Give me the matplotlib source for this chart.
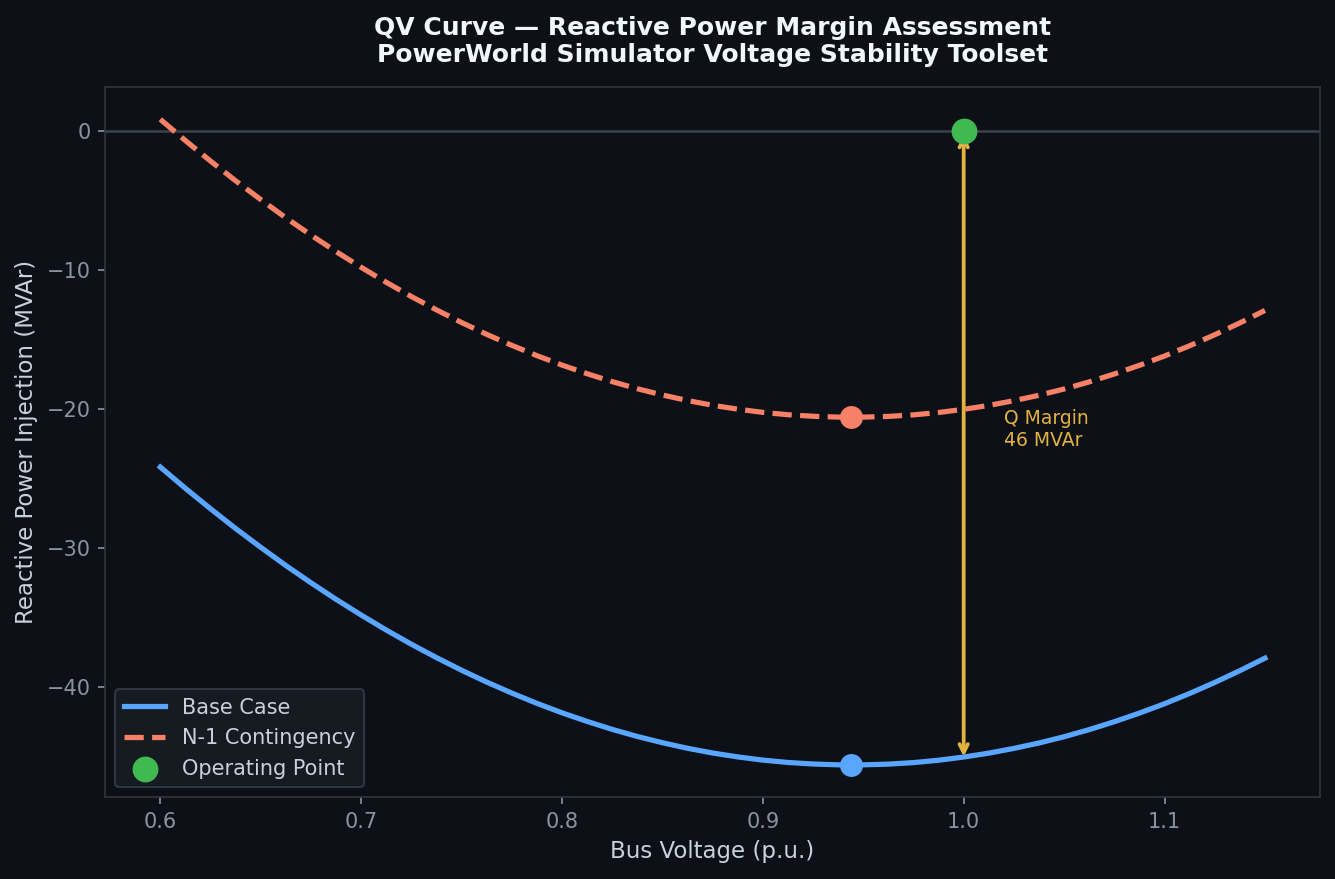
import matplotlib
matplotlib.use("Agg")
import matplotlib.pyplot as plt

voltage = [0.6000, 0.6125, 0.6250, 0.6375, 0.6500, 0.6625, 0.6750, 0.6875, 0.7000, 0.7125,
           0.7250, 0.7375, 0.7500, 0.7625, 0.7750, 0.7875, 0.8000, 0.8125, 0.8250, 0.8375,
           0.8500, 0.8625, 0.8750, 0.8875, 0.9000, 0.9125, 0.9250, 0.9375, 0.9500, 0.9625,
           0.9750, 0.9875, 1.0000, 1.0125, 1.0250, 1.0375, 1.0500, 1.0625, 1.0750, 1.0875,
           1.1000, 1.1125, 1.1250, 1.1375, 1.1500]
q_base = [-24.18, -25.71, -27.18, -28.60, -29.95, -31.26, -32.50, -33.69, -34.82, -35.90,
          -36.92, -37.88, -38.79, -39.64, -40.43, -41.17, -41.85, -42.47, -43.04, -43.55,
          -44.00, -44.40, -44.74, -45.02, -45.25, -45.42, -45.53, -45.59, -45.59, -45.54,
          -45.43, -45.26, -45.03, -44.75, -44.41, -44.02, -43.57, -43.06, -42.49, -41.87,
          -41.20, -40.46, -39.67, -38.82, -37.92]
q_n1 = [0.82, -0.71, -2.18, -3.60, -4.95, -6.26, -7.50, -8.69, -9.82, -10.90,
        -11.92, -12.88, -13.79, -14.64, -15.43, -16.17, -16.85, -17.47, -18.04, -18.55,
        -19.00, -19.40, -19.74, -20.02, -20.25, -20.42, -20.53, -20.59, -20.59, -20.54,
        -20.43, -20.26, -20.03, -19.75, -19.41, -19.02, -18.57, -18.06, -17.49, -16.87,
        -16.20, -15.46, -14.67, -13.82, -12.92]
base_min = (0.944, -45.6)
n1_min = (0.944, -20.6)
op_point = (1.0, 0.0)
margin_bottom = -45.0
margin_label = "Q Margin\n46 MVAr"

BG = "#0d1017"
fig = plt.figure(figsize=(8.9, 5.86), dpi=150, facecolor=BG)
ax = fig.add_axes([0.0787, 0.093, 0.9102, 0.808])
ax.set_facecolor(BG)

ax.axhline(0, color="#3d434b", lw=1.2, zorder=1)
ax.plot(voltage, q_base, color="#58a6ff", lw=2.5, label="Base Case", zorder=3)
ax.plot(voltage, q_n1, color="#f78166", lw=2.5, ls="--", label="N-1 Contingency", zorder=3)
ax.plot(*base_min, "o", color="#58a6ff", ms=10, zorder=4)
ax.plot(*n1_min, "o", color="#f78166", ms=10, zorder=4)
ax.annotate("", xy=(op_point[0], margin_bottom), xytext=(op_point[0], op_point[1]),
            arrowprops=dict(arrowstyle="<->", color="#e3b341", lw=1.8, shrinkB=0), zorder=4)
ax.scatter([op_point[0]], [op_point[1]], s=130, color="#3fb950", label="Operating Point", zorder=5)
ax.text(1.02, -21.5, margin_label, color="#e3b341", fontsize=9, va="center", ha="left")

ax.set_xlabel("Bus Voltage (p.u.)", color="#c9d1d9", fontsize=11)
ax.set_ylabel("Reactive Power Injection (MVAr)", color="#c9d1d9", fontsize=11)
ax.set_title("QV Curve — Reactive Power Margin Assessment\nPowerWorld Simulator Voltage Stability Toolset",
             color="#f0f6fc", fontsize=12, fontweight="bold", pad=12, linespacing=1.15)
ax.set_xticks([0.6, 0.7, 0.8, 0.9, 1.0, 1.1])
ax.set_yticks([0, -10, -20, -30, -40])
ax.tick_params(colors="#8b949e", labelsize=10)
for s in ax.spines.values():
    s.set_color("#30363d")

leg = ax.legend(loc="lower left", facecolor="#161b22", edgecolor="#30363d", fontsize=10,
                labelcolor="#c9d1d9", framealpha=1.0)

fig.savefig("out.png", dpi=150, facecolor=BG)
